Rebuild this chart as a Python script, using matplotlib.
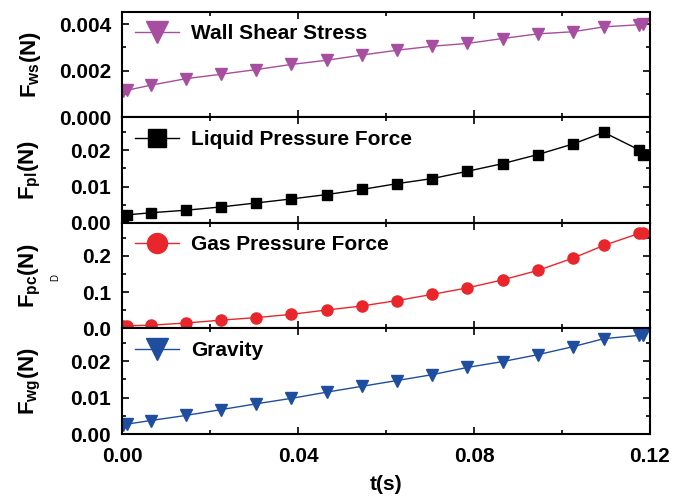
import matplotlib
matplotlib.use("Agg")
import matplotlib.pyplot as plt
from matplotlib.ticker import MultipleLocator, FormatStrFormatter

plt.rcParams['font.family'] = ['Liberation Sans', 'DejaVu Sans']
plt.rcParams['font.weight'] = 'bold'
plt.rcParams['mathtext.fontset'] = 'custom'
plt.rcParams['mathtext.rm'] = 'Liberation Sans:bold'
plt.rcParams['mathtext.bf'] = 'Liberation Sans:bold'
plt.rcParams['mathtext.it'] = 'Liberation Sans:bold'

## time steps (s)
t = [0.0002, 0.001, 0.0065, 0.0145, 0.0225, 0.0305, 0.0385, 0.0465, 0.0545,
     0.0625, 0.0705, 0.0785, 0.0865, 0.0945, 0.1025, 0.1095, 0.1175, 0.1185]

## forces (N)
f_ws = [0.00112, 0.00116, 0.00138, 0.00166, 0.00185, 0.00205, 0.00227, 0.00245,
        0.00267, 0.00288, 0.00305, 0.00317, 0.00338, 0.00358, 0.00367, 0.00388,
        0.00397, 0.00399]
f_pl = [0.0020, 0.0022, 0.0028, 0.0035, 0.0044, 0.0055, 0.0066, 0.0078, 0.0092,
        0.0108, 0.0122, 0.0142, 0.0163, 0.0188, 0.0217, 0.0249, 0.0201, 0.0187]
f_pc = [0.007, 0.0075, 0.009, 0.015, 0.023, 0.030, 0.039, 0.051, 0.062, 0.077,
        0.094, 0.112, 0.134, 0.160, 0.194, 0.229, 0.262, 0.264]
f_wg = [0.0025, 0.0027, 0.0037, 0.0051, 0.0067, 0.0083, 0.0098, 0.0115, 0.0131,
        0.0147, 0.0163, 0.0183, 0.0199, 0.0218, 0.0240, 0.0262, 0.0271, 0.0273]

series = [
    (f_ws, 'Wall Shear Stress', '#a64ea0', 'v', 9, 'F$_{\\mathrm{ws}}$(N)', 0.00452, 0.002, 0.001, '%.3f'),
    (f_pl, 'Liquid Pressure Force', 'black', 's', 7.5, 'F$_{\\mathrm{pl}}$(N)', 0.029, 0.01, 0.005, '%.2f'),
    (f_pc, 'Gas Pressure Force', '#e8262b', 'o', 8, 'F$_{\\mathrm{pc}}$(N)', 0.291, 0.1, 0.05, '%.1f'),
    (f_wg, 'Gravity', '#1f4e9f', 'v', 9, 'F$_{\\mathrm{wg}}$(N)', 0.029, 0.01, 0.005, '%.2f'),
]

fig, axes = plt.subplots(4, 1, sharex=True, figsize=(6.86, 4.96), dpi=100)
fig.subplots_adjust(left=0.178, right=0.9475, top=0.976, bottom=0.125, hspace=0)

for ax, (y, name, col, mk, ms, ylab, ytop, major, minor, fmt) in zip(axes, series):
    ax.plot(t, y, color=col, marker=mk, markersize=ms, lw=1, label=name)
    ax.set_xlim(0, 0.12)
    ax.set_ylim(0, ytop)
    ax.yaxis.set_major_locator(MultipleLocator(major))
    ax.yaxis.set_minor_locator(MultipleLocator(minor))
    ax.yaxis.set_major_formatter(FormatStrFormatter(fmt))
    ax.xaxis.set_major_locator(MultipleLocator(0.04))
    ax.xaxis.set_minor_locator(MultipleLocator(0.02))
    ax.tick_params(which='both', direction='in', top=True, right=True, width=1.2)
    ax.tick_params(which='major', length=5, labelsize=15)
    ax.tick_params(axis='y', which='major', pad=8)
    ax.tick_params(axis='x', which='major', pad=9)
    ax.tick_params(which='minor', length=3)
    ax.tick_params(axis='x', which='both', labelbottom=False)
    for s in ax.spines.values():
        s.set_linewidth(1.5)
    ax.set_ylabel(ylab, fontsize=16, fontweight='bold')
    ax.yaxis.set_label_coords(-0.15, 0.5)
    ax.legend(loc='upper left', frameon=False, fontsize=15, markerscale=1.8,
              handlelength=2.15, handletextpad=0.58, borderaxespad=0.2)

axes[-1].tick_params(axis='x', which='both', labelbottom=True)
axes[-1].xaxis.set_major_formatter(FormatStrFormatter('%.2f'))
axes[-1].set_xlabel('t(s)', fontsize=15, fontweight='bold', labelpad=7)

# stray subscript next to the gas pressure label
fig.text(0.08, 0.44, 'D', fontsize=7, fontweight='normal', rotation=90,
         ha='center', va='center')

fig.savefig('out.png', dpi=100)
